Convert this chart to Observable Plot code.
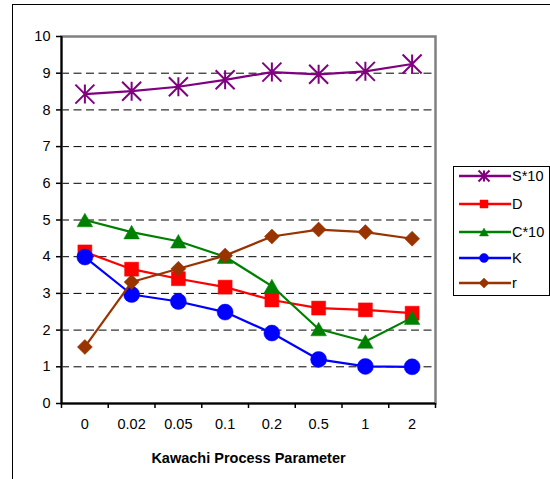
<!DOCTYPE html>
<html><head><meta charset="utf-8">
<script src="https://cdn.jsdelivr.net/npm/d3@7"></script>
<script src="https://cdn.jsdelivr.net/npm/@observablehq/plot@0.6"></script>
<style>
body{margin:0;overflow:hidden;background:#fff;font-family:Arial,"Liberation Sans",sans-serif;}
#wrap{position:relative;width:550px;height:479px;overflow:hidden;}
#chart{position:absolute;left:0;top:0;}
#border{position:absolute;left:12px;top:4px;width:700px;height:700px;border-left:1.5px solid #000;border-top:1.5px solid #000;}
#legend{position:absolute;left:453px;top:166px;width:95px;height:128px;border:1px solid #000;background:#fff;}
#legend svg{display:block;}
</style></head><body>
<div id="wrap"><div id="chart"></div><div id="border"></div><div id="legend"></div></div>
<script>
const params = ["0","0.02","0.05","0.1","0.2","0.5","1","2"];
const seriesNames = ["S*10","D","C*10","K","r"];
const S10 = [8.43,8.51,8.63,8.82,9.03,8.97,9.05,9.25];
const D   = [4.13,3.66,3.40,3.17,2.82,2.60,2.55,2.46];
const C10 = [5.00,4.67,4.42,4.00,3.20,2.03,1.69,2.34];
const K   = [3.99,2.97,2.78,2.49,1.92,1.20,1.01,1.00];
const R   = [1.54,3.31,3.67,4.03,4.55,4.74,4.67,4.49];
const yTicks = [0,1,2,3,4,5,6,7,8,9,10];

const rad = s => Math.sqrt(s/Math.PI);
const asterisk = {draw(c,s){const r=rad(s);c.moveTo(0,-r);c.lineTo(0,r);c.moveTo(-r,-r);c.lineTo(r,r);c.moveTo(-r,r);c.lineTo(r,-r);}};
const square = {draw(c,s){const r=rad(s);c.rect(-r,-r,2*r,2*r);}};
const triangle = {draw(c,s){const r=rad(s);const h=1.75*r;c.moveTo(0,-h/2);c.lineTo(r,h/2);c.lineTo(-r,h/2);c.closePath();}};
const circle = {draw(c,s){const r=rad(s);c.moveTo(r,0);c.arc(0,0,r,0,2*Math.PI);}};
const diamond = {draw(c,s){const r=rad(s);c.moveTo(0,-r);c.lineTo(r,0);c.lineTo(0,r);c.lineTo(-r,0);c.closePath();}};

const series = [
  {name:seriesNames[0], values:S10, color:"#800080", symbol:asterisk, r:9.5, filled:false, lr:5.5},
  {name:seriesNames[1], values:D,   color:"#ff0000", symbol:square,   r:7,   filled:true,  lr:4},
  {name:seriesNames[2], values:C10, color:"#008000", symbol:triangle, r:7.8, filled:true,  lr:4.5},
  {name:seriesNames[3], values:K,   color:"#0000ff", symbol:circle,   r:8,   filled:true,  lr:4.5},
  {name:seriesNames[4], values:R,   color:"#993300", symbol:diamond,  r:7.5, filled:true,  lr:5}
];
const idx = d3.range(params.length);
const bounds = d3.range(params.length + 1).map(i => i - 0.5);
const FS = 14.5;

const marks = [
  Plot.ruleY(yTicks.filter(v => v > 0 && v < 10), {stroke:"#000", strokeWidth:1, strokeDasharray:"8,4.5"}),
  Plot.frame({stroke:"#808080", strokeWidth:2.5}),
  Plot.ruleX([-0.5], {stroke:"#000", strokeWidth:2}),
  Plot.ruleY([0], {stroke:"#000", strokeWidth:2}),
  Plot.axisY(yTicks, {tickSize:5, tickPadding:6, fontSize:FS, strokeWidth:1.5}),
  Plot.axisX(bounds, {tickSize:5, tickFormat: () => "", strokeWidth:1.5}),
  Plot.axisX(idx, {tickFormat: i => params[i], tickSize:0, tickPadding:15, fontSize:FS}),
  Plot.text(["Kawachi Process Parameter"], {frameAnchor:"bottom", dy:59, fontSize:FS, fontWeight:"bold"})
];
for (const s of series) {
  marks.push(Plot.line(idx, {x: i => i, y: i => s.values[i], stroke: s.color, strokeWidth: 2.2}));
  marks.push(Plot.dot(idx, {x: i => i, y: i => s.values[i], symbol: s.symbol, r: s.r,
    fill: s.filled ? s.color : "none", stroke: s.color, strokeWidth: s.filled ? 0.5 : 2}));
}

const chart = Plot.plot({
  width: 550, height: 479,
  marginLeft: 61, marginRight: 115, marginTop: 36, marginBottom: 76,
  style: {fontFamily: 'Arial, "Liberation Sans", sans-serif', fontSize: FS + "px", color: "#000", background: "transparent"},
  x: {domain: [-0.5, params.length - 0.5], label: null, axis: null},
  y: {domain: [0, 10], label: null, axis: null},
  marks
});
document.getElementById("chart").appendChild(chart);

// legend
const lg = d3.select("#legend").append("svg").attr("width", 95).attr("height", 128);
const rowsY = [9, 37, 65, 91, 116];
series.forEach((s, k) => {
  const g = lg.append("g").attr("transform", `translate(0,${rowsY[k]})`);
  g.append("line").attr("x1", 5).attr("x2", 57).attr("y1", 0).attr("y2", 0).attr("stroke", s.color).attr("stroke-width", 2.5);
  g.append("path").attr("transform", "translate(30,0)")
    .attr("d", d3.symbol(s.symbol, Math.PI * s.lr * s.lr)())
    .attr("fill", s.filled ? s.color : "none").attr("stroke", s.color).attr("stroke-width", s.filled ? 0.5 : 2);
  g.append("text").attr("x", 58).attr("y", 0).attr("dy", "0.35em").attr("font-size", FS)
    .attr("font-family", 'Arial, "Liberation Sans", sans-serif').text(s.name);
});
</script>
</body></html>
